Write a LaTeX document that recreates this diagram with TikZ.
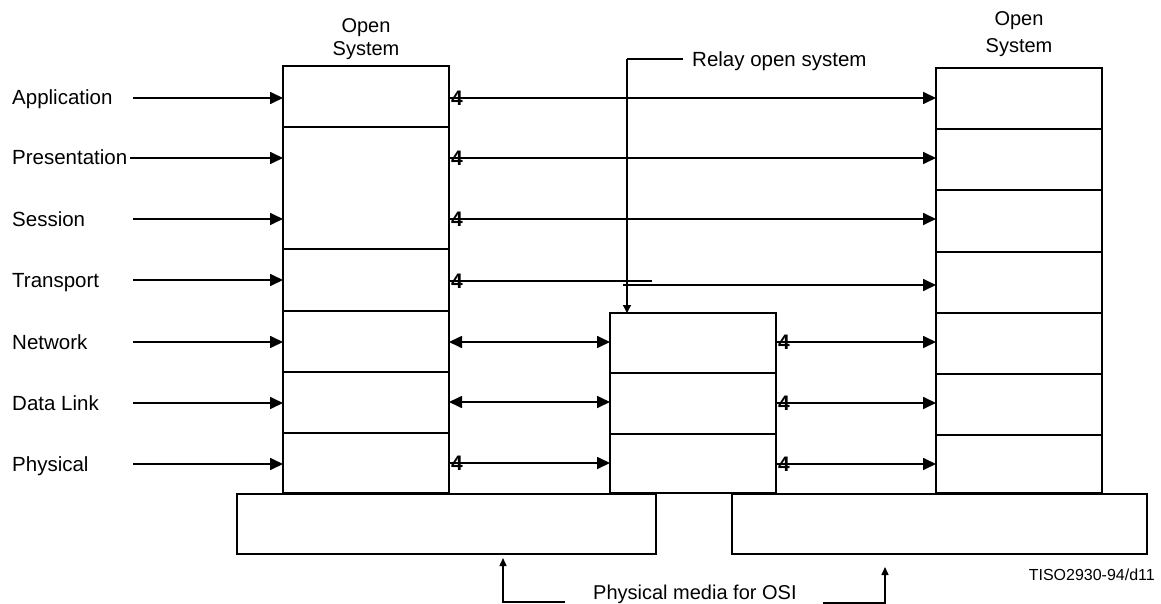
\documentclass[tikz,border=0pt]{standalone}
\usepackage{fontspec}
\setmainfont{Liberation Sans}
\usetikzlibrary{arrows.meta}
\begin{document}
\begin{tikzpicture}[x=1pt,y=-1pt,
  box/.style={draw, line width=1.4pt, inner sep=0pt, outer sep=0pt, anchor=north west, minimum width=166pt},
  arr/.style={line width=1.7pt, -{Triangle[length=13pt,width=12pt]}},
  darr/.style={line width=1.7pt, {Triangle[length=13pt,width=12pt]}-{Triangle[length=13pt,width=12pt]}},
  sarr/.style={line width=1.4pt, -{Triangle[length=8pt,width=7pt]}},
  lab/.style={font=\fontsize{20.5}{24}\selectfont, anchor=base west, inner sep=0pt},
  ttl/.style={font=\fontsize{20}{24}\selectfont, anchor=base, inner sep=0pt},
  four/.style={font=\fontsize{21}{21}\selectfont\bfseries, inner sep=0pt}]
\useasboundingbox (0,0) rectangle (1161,604);

% left open system
\node[box, minimum height=61pt]  (L1) at (283,66)  {};
\node[box, minimum height=122pt] (L2) at (283,127) {};
\node[box, minimum height=62pt]  (L3) at (283,249) {};
\node[box, minimum height=61pt]  (L4) at (283,311) {};
\node[box, minimum height=61pt]  (L5) at (283,372) {};
\node[box, minimum height=60pt]  (L6) at (283,433) {};

% right open system
\node[box, minimum height=61pt] (R1) at (936,68)  {};
\node[box, minimum height=61pt] (R2) at (936,129) {};
\node[box, minimum height=62pt] (R3) at (936,190) {};
\node[box, minimum height=61pt] (R4) at (936,252) {};
\node[box, minimum height=61pt] (R5) at (936,313) {};
\node[box, minimum height=61pt] (R6) at (936,374) {};
\node[box, minimum height=58pt] (R7) at (936,435) {};

% relay open system
\node[box, minimum height=60pt] (Y1) at (610,313) {};
\node[box, minimum height=61pt] (Y2) at (610,373) {};
\node[box, minimum height=59pt] (Y3) at (610,434) {};

% physical media
\node[box, minimum width=419pt, minimum height=60pt] (M1) at (237,494) {};
\node[box, minimum width=415pt, minimum height=60pt] (M2) at (732,494) {};

% titles
\node[ttl] (o1) at (366,33) {Open};
\node[ttl] (s1) at (366,56) {System};
\node[ttl] (o2) at (1019,26) {Open};
\node[ttl] (s2) at (1019,53) {System};

% layer labels
\node[lab] (tA) at (12,105) {Application};
\node[lab] (tP) at (12,165) {Presentation};
\node[lab] (tS) at (12,226) {Session};
\node[lab] (tT) at (12,287) {Transport};
\node[lab] (tN) at (12,349) {Network};
\node[lab] (tD) at (12,410) {Data Link};
\node[lab] (tY) at (12,471) {Physical};

\coordinate (a1) at (133,98);
\coordinate (a2) at (130,158);
\coordinate (a3) at (133,219);
\coordinate (a4) at (133,280);
\coordinate (a5) at (133,342);
\coordinate (a6) at (133,403);
\coordinate (a7) at (133,464);
\draw[arr] (a1) -- (a1 -| L1.west);
\draw[arr] (a2) -- (a2 -| L2.west);
\draw[arr] (a3) -- (a3 -| L2.west);
\draw[arr] (a4) -- (a4 -| L3.west);
\draw[arr] (a5) -- (a5 -| L4.west);
\draw[arr] (a6) -- (a6 -| L5.west);
\draw[arr] (a7) -- (a7 -| L6.west);

% peer arrows, upper layers
\draw[arr] (L1.east |- a1) -- (R1.west |- a1);
\draw[arr] (L2.east |- a2) -- (R2.west |- a2);
\draw[arr] (L2.east |- a3) -- (R3.west |- a3);
\coordinate (t1) at (652,281);
\coordinate (t2) at (623,285);
\draw[line width=1.7pt] (L3.east |- t1) -- (t1);
\draw[arr] (t2) -- (R4.west |- t2);

% lower layers
\draw[darr] (L4.east |- 0,342) -- (Y1.west |- 0,342);
\draw[darr] (L5.east |- 0,402) -- (Y2.west |- 0,402);
\draw[arr] (L6.east |- 0,463) -- (Y3.west |- 0,463);
\draw[arr] (Y1.east |- 0,342) -- (R5.west |- 0,342);
\draw[arr] (Y2.east |- 0,403) -- (R6.west |- 0,403);
\draw[arr] (Y3.east |- 0,464) -- (R7.west |- 0,464);

% the "4" marks
\node[four] (f1) at (457,98) {4};
\node[four] (f2) at (457,158) {4};
\node[four] (f3) at (457,219) {4};
\node[four] (f4) at (457,281) {4};
\node[four] (f5) at (457,463) {4};
\node[four] (f6) at (784,342) {4};
\node[four] (f7) at (784,403) {4};
\node[four] (f8) at (784,464) {4};

% relay open system label and pointer
\coordinate (rt) at (627,59);
\node[lab, inner xsep=9pt] (relay) at (683,67) {Relay open system};
\draw[line width=2pt] (rt) -- (rt -| relay.west);
\draw[line width=1.3pt, -{Triangle[length=8pt,width=8pt]}] (rt) -- (rt |- Y1.north);

% physical media label
\node[lab, font=\fontsize{20}{24}\selectfont] (pm) at (593,599) {Physical media for OSI};
\coordinate (lb1) at (565,602);
\coordinate (lb2) at (503,602);
\coordinate (lbt) at (503,558);
\draw[sarr] (lb1) -- (lb2) -- (lbt);
\coordinate (rb1) at (823,603);
\coordinate (rb2) at (885,603);
\coordinate (rbt) at (885,567);
\draw[sarr] (rb1) -- (rb2) -- (rbt);

\node[font=\fontsize{16}{18}\selectfont, anchor=base east, inner sep=0pt] (ref) at (1155,580) {TISO2930-94/d11};
\end{tikzpicture}
\end{document}
